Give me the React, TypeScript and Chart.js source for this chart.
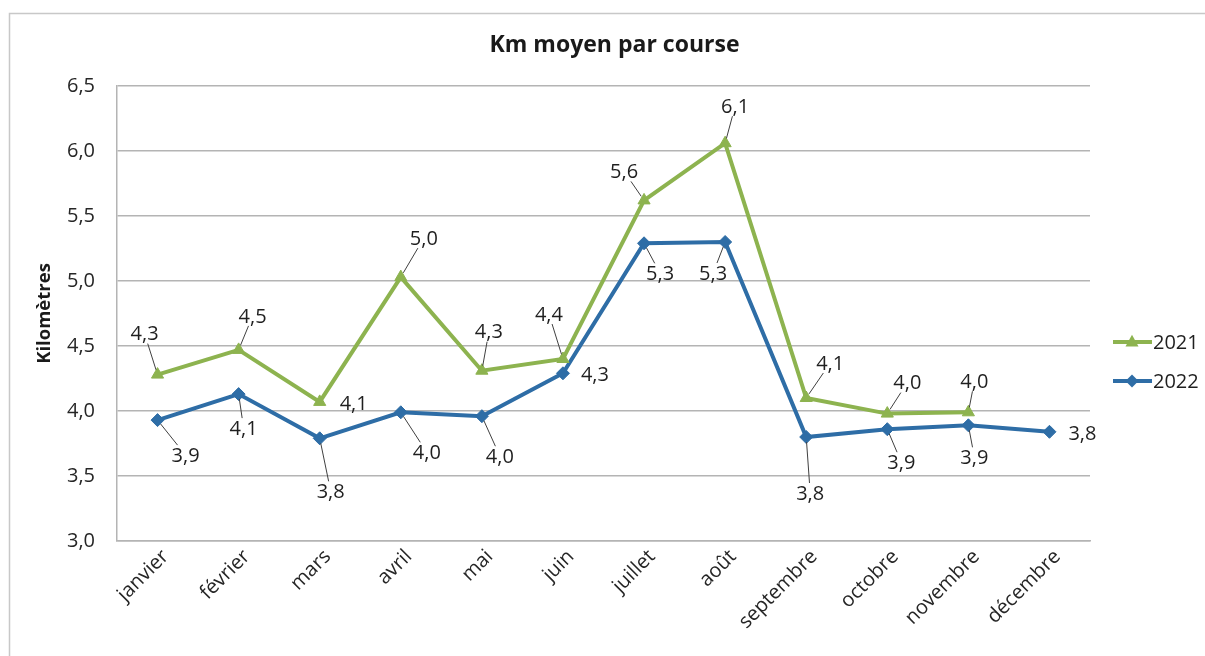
import React, { useEffect, useRef } from "react";
import { Chart, registerables } from "chart.js";

Chart.register(...registerables);

const TITLE = "Km moyen par course";
const Y_TITLE = "Kilomètres";
const months = ["janvier", "février", "mars", "avril", "mai", "juin", "juillet", "août", "septembre", "octobre", "novembre", "décembre"];
const series2021 = [4.28, 4.47, 4.07, 5.03, 4.31, 4.4, 5.62, 6.06, 4.1, 3.98, 3.99, null];
const series2022 = [3.93, 4.13, 3.79, 3.99, 3.96, 4.29, 5.29, 5.3, 3.8, 3.86, 3.89, 3.84];
const yMin = 3;
const yMax = 6.5;
const yStep = 0.5;

// label placement (dx, dy from the point, in px)
const labelOffsets2021: [number, number][] = [
  [-13, -41], [14, -34], [34, 1], [23, -39], [7, -39], [-14, -45],
  [-20, -29], [10, -37], [24, -35], [20, -31], [6, -31], [0, 0],
];
const labelOffsets2022: [number, number][] = [
  [28, 35], [5, 34], [11, 53], [26, 40], [18, 40], [32, 1],
  [16, 30], [-12, 31], [4, 56], [14, 33], [6, 32], [33, 1],
];

const GREEN = "#8db34f";
const BLUE = "#2e6da6";
const FONT = '"Open Sans", "DejaVu Sans", sans-serif';

const fmt = (v: number) => v.toFixed(1).replace(".", ",");

function drawMarker(ctx: CanvasRenderingContext2D, style: string, x: number, y: number, r: number, color: string) {
  ctx.save();
  ctx.fillStyle = color;
  ctx.beginPath();
  if (style === "triangle") {
    ctx.moveTo(x, y - r * 1.1);
    ctx.lineTo(x + r, y + r * 0.7);
    ctx.lineTo(x - r, y + r * 0.7);
  } else {
    ctx.moveTo(x, y - r);
    ctx.lineTo(x + r, y);
    ctx.lineTo(x, y + r);
    ctx.lineTo(x - r, y);
  }
  ctx.closePath();
  ctx.fill();
  ctx.restore();
}

const decorPlugin = {
  id: "decor",
  beforeDraw(chart: any) {
    const ctx = chart.ctx as CanvasRenderingContext2D;
    ctx.save();
    ctx.fillStyle = "#ffffff";
    ctx.fillRect(0, 0, chart.width, chart.height);
    ctx.strokeStyle = "#c8c8c8";
    ctx.lineWidth = 1.5;
    ctx.beginPath();
    ctx.moveTo(9.5, chart.height);
    ctx.lineTo(9.5, 13.5);
    ctx.lineTo(chart.width, 13.5);
    ctx.stroke();
    ctx.font = `bold 23px ${FONT}`;
    ctx.fillStyle = "#1a1a1a";
    ctx.textAlign = "center";
    ctx.textBaseline = "middle";
    ctx.fillText(TITLE, chart.width / 2 + 12, 45);
    ctx.restore();
  },
  afterDatasetsDraw(chart: any) {
    const ctx = chart.ctx as CanvasRenderingContext2D;
    const offsetsAll = [labelOffsets2021, labelOffsets2022];
    ctx.save();
    ctx.font = `20px ${FONT}`;
    ctx.textAlign = "center";
    ctx.textBaseline = "middle";
    chart.data.datasets.forEach((ds: any, di: number) => {
      const meta = chart.getDatasetMeta(di);
      const offs = offsetsAll[di];
      meta.data.forEach((pt: any, i: number) => {
        const v = ds.data[i];
        if (v === null || v === undefined) return;
        const [dx, dy] = offs[i];
        const lx = pt.x + dx;
        const ly = pt.y + dy;
        const text = fmt(v);
        const w = ctx.measureText(text).width + 4;
        const h = 20;
        if (Math.abs(dy) > 20) {
          const t = Math.min(dx === 0 ? Infinity : w / 2 / Math.abs(dx), h / 2 / Math.abs(dy));
          const ex = lx - dx * t;
          const ey = ly - dy * t;
          const len = Math.hypot(ex - pt.x, ey - pt.y);
          if (len > 6) {
            const sx = pt.x + ((ex - pt.x) / len) * 5;
            const sy = pt.y + ((ey - pt.y) / len) * 5;
            ctx.strokeStyle = "#404040";
            ctx.lineWidth = 1;
            ctx.beginPath();
            ctx.moveTo(sx, sy);
            ctx.lineTo(ex, ey);
            ctx.stroke();
          }
        }
        ctx.fillStyle = "#1f1f1f";
        ctx.fillText(text, lx, ly + 1);
      });
    });
    ctx.restore();
  },
  afterDraw(chart: any) {
    const ctx = chart.ctx as CanvasRenderingContext2D;
    ctx.save();
    const area = chart.chartArea;
    const x0 = area.right + 23;
    chart.data.datasets.forEach((ds: any, i: number) => {
      const y = 342 + i * 39;
      ctx.strokeStyle = ds.borderColor;
      ctx.lineWidth = 4;
      ctx.beginPath();
      ctx.moveTo(x0, y);
      ctx.lineTo(x0 + 39, y);
      ctx.stroke();
      drawMarker(ctx, ds.pointStyle, x0 + 19, y, 6.5, ds.borderColor);
      ctx.fillStyle = "#1f1f1f";
      ctx.font = `20px ${FONT}`;
      ctx.textAlign = "left";
      ctx.textBaseline = "middle";
      ctx.fillText(ds.label, x0 + 40, y + 1);
    });
    ctx.restore();
  },
};

export default function App() {
  const ref = useRef<HTMLCanvasElement | null>(null);
  useEffect(() => {
    if (!ref.current) return;
    const chart = new Chart(ref.current, {
      type: "line",
      data: {
        labels: months,
        datasets: [
          {
            label: "2021",
            data: series2021,
            borderColor: GREEN,
            backgroundColor: GREEN,
            borderWidth: 4,
            pointStyle: "triangle",
            pointRadius: 7,
            pointBorderWidth: 1,
            tension: 0,
            spanGaps: false,
          },
          {
            label: "2022",
            data: series2022,
            borderColor: BLUE,
            backgroundColor: BLUE,
            borderWidth: 4,
            pointStyle: "rectRot",
            pointRadius: 6.5,
            pointBorderWidth: 1,
            tension: 0,
          },
        ],
      },
      options: {
        animation: false,
        responsive: true,
        maintainAspectRatio: false,
        layout: { padding: { top: 86, left: 0, right: 115, bottom: 0 } },
        plugins: {
          legend: { display: false },
          title: { display: false },
          tooltip: { enabled: false },
        },
        scales: {
          x: {
            offset: true,
            grid: { display: false, drawTicks: false },
            border: { display: true, color: "#b4b4b4", width: 1.5 },
            ticks: {
              autoSkip: false,
              minRotation: 45,
              maxRotation: 45,
              padding: 4,
              labelOffset: 8,
              color: "#262626",
              font: { family: FONT, size: 20 },
            },
            afterFit: (s: any) => {
              s.height = 115;
            },
          },
          y: {
            min: yMin,
            max: yMax,
            grid: { color: "#b4b4b4", lineWidth: 1.5, drawTicks: false },
            border: { display: true, color: "#b4b4b4", width: 1.5 },
            ticks: {
              stepSize: yStep,
              padding: 22,
              color: "#262626",
              font: { family: FONT, size: 20 },
              callback: (v: any) => fmt(Number(v)),
            },
            title: {
              display: true,
              text: Y_TITLE,
              color: "#1a1a1a",
              font: { family: FONT, size: 18.5, weight: "bold" },
              padding: { top: 34, bottom: 0 },
            },
            afterFit: (s: any) => {
              s.width = 117;
            },
          },
        },
      },
      plugins: [decorPlugin],
    });
    return () => chart.destroy();
  }, []);
  return (
    <div style={{ position: "absolute", left: 0, top: 0, width: 1205, height: 656 }}>
      <canvas ref={ref} />
    </div>
  );
}
